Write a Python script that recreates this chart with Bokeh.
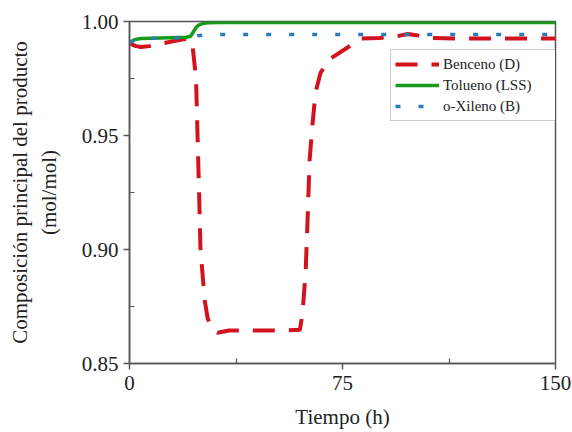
from bokeh.plotting import figure
from bokeh.models import FixedTicker, NumeralTickFormatter, Legend, LegendItem, Range1d
from bokeh.embed import file_html
from bokeh.resources import INLINE

# ---- data ----
t_ben = [0, 2, 4, 7, 10, 14, 18, 20.5, 21.5, 22.2, 23.0, 23.5, 24.0, 24.5, 25.0, 25.8,
         26.5, 27.5, 28.5, 30, 31, 35, 45, 55, 60, 60.9, 62, 62.7, 63.4, 64.4, 65.5,
         67.3, 70.8, 76.8, 81.3, 88, 94, 98, 101, 105, 115, 130, 150]
y_ben = [0.9904, 0.9893, 0.9888, 0.9892, 0.9900, 0.9910, 0.9920, 0.9925, 0.9922, 0.9895,
         0.9800, 0.9715, 0.9480, 0.9250, 0.9000, 0.8880, 0.8776, 0.8700, 0.8665, 0.8645,
         0.8635, 0.8645, 0.8645, 0.8645, 0.8648, 0.8719, 0.8895, 0.9127, 0.9390, 0.9544,
         0.9689, 0.9776, 0.9838, 0.9886, 0.9925, 0.9928, 0.9935, 0.9945, 0.9940, 0.9928,
         0.9925, 0.9925, 0.9925]

t_tol = [0, 1, 2, 4, 8, 14, 20, 21.5, 22.5, 23.5, 24.5, 26, 28, 32, 40, 150]
y_tol = [0.9905, 0.9915, 0.9921, 0.9925, 0.9927, 0.9929, 0.9931, 0.9935, 0.9955, 0.9975,
         0.9985, 0.9992, 0.9995, 0.9996, 0.9996, 0.9996]

t_xil = [0, 1, 2, 4, 8, 14, 20, 22, 24, 27, 35, 150]
y_xil = [0.9905, 0.9914, 0.9920, 0.9924, 0.9926, 0.9928, 0.9930, 0.9932, 0.9938, 0.9942,
         0.9943, 0.9943]

series_names = ["Benceno (D)", "Tolueno (LSS)", "o-Xileno (B)"]
x_ticks = [0, 75, 150]
x_minor = [37.5, 112.5]
y_ticks = [0.85, 0.90, 0.95, 1.00]
y_minor = [0.875, 0.925, 0.975]

FONT = "Liberation Serif"
TXT = "#222222"
AX = "#555555"

p = figure(width=572, height=432, output_backend="svg", toolbar_location=None,
           x_range=Range1d(0, 150), y_range=Range1d(0.85, 1.00),
           min_border_left=129, min_border_right=17, min_border_top=21, min_border_bottom=69)
p.xgrid.visible = False
p.ygrid.visible = False
p.outline_line_color = AX
p.outline_line_width = 1.5
p.background_fill_color = "white"
p.border_fill_color = "white"

r_ben = p.line(t_ben, y_ben, line_color="#d2121c", line_width=4, line_dash="22 14")
r_tol = p.line(t_tol, y_tol, line_color="#1a9a1a", line_width=3.5)
r_xil = p.line(t_xil, y_xil, line_color="#2b7bba", line_width=3.5, line_dash="5 18")

p.xaxis.ticker = FixedTicker(ticks=x_ticks, minor_ticks=x_minor)
p.yaxis.ticker = FixedTicker(ticks=y_ticks, minor_ticks=y_minor)
p.xaxis.formatter = NumeralTickFormatter(format="0")
p.yaxis.formatter = NumeralTickFormatter(format="0.00")

for ax in (p.xaxis[0], p.yaxis[0]):
    ax.axis_line_color = AX
    ax.axis_line_width = 1.5
    ax.major_tick_line_color = AX
    ax.minor_tick_line_color = AX
    ax.major_tick_line_width = 1.5
    ax.minor_tick_line_width = 1.2
    ax.major_tick_in = 0
    ax.major_tick_out = 6
    ax.minor_tick_in = 5
    ax.minor_tick_out = 0
    ax.major_label_text_font = FONT
    ax.major_label_text_font_size = "21px"
    ax.major_label_text_color = TXT
    ax.axis_label_text_font = FONT
    ax.axis_label_text_font_size = "21px"
    ax.axis_label_text_font_style = "normal"
    ax.axis_label_text_color = TXT

p.xaxis.axis_label = "Tiempo (h)"
p.xaxis.major_label_standoff = 6
p.xaxis.axis_label_standoff = 12
p.yaxis.axis_label = "Composición principal del producto\n(mol/mol)"
p.yaxis.major_label_standoff = 5
p.yaxis.axis_label_standoff = 18

legend = Legend(items=[LegendItem(label=series_names[0], renderers=[r_ben]),
                       LegendItem(label=series_names[1], renderers=[r_tol]),
                       LegendItem(label=series_names[2], renderers=[r_xil])],
                location=(261, 242))
legend.label_text_font = FONT
legend.label_text_font_size = "15px"
legend.label_text_color = TXT
legend.glyph_width = 44
legend.glyph_height = 20
legend.label_height = 20
legend.label_width = 110
legend.label_standoff = 4
legend.padding = 4
legend.spacing = 1
legend.margin = 0
legend.border_line_color = "#999999"
legend.border_line_width = 1
legend.background_fill_color = "white"
legend.background_fill_alpha = 1
p.add_layout(legend)

open("out.html", "w").write(file_html(p, INLINE))
